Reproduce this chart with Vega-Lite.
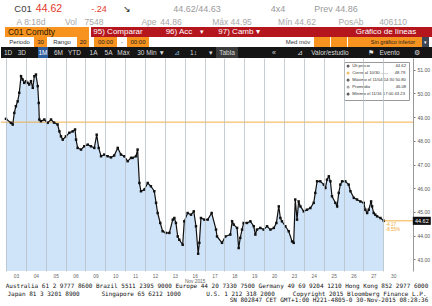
{
"$schema": "https://vega.github.io/schema/vega-lite/v6.json",
"padding": 0,
"background": "white",
"spacing": 0,
"bounds": "full",
"resolve": {"scale": {"color": "independent"}, "legend": {"color": "independent"}},
"config": {"view": {"stroke": null}, "text": {"font": "Liberation Sans", "fontSize": 7}, "concat": {"spacing": 0}, "axis": {"labelOverlap": false}},
"datasets": {
"precios": [
{"dia":0.00,"precio":48.93},{"dia":0.25,"precio":48.76},{"dia":0.34,"precio":48.69},{"dia":0.42,"precio":49.18},{"dia":0.50,"precio":49.46},{"dia":0.59,"precio":49.67},{"dia":0.67,"precio":50.03},{"dia":0.76,"precio":50.73},{"dia":0.84,"precio":50.59},{"dia":0.92,"precio":50.45},{"dia":1.01,"precio":50.52},{"dia":1.09,"precio":50.45},{"dia":1.17,"precio":50.38},{"dia":1.26,"precio":50.52},{"dia":1.35,"precio":50.24},{"dia":1.43,"precio":50.73},{"dia":1.51,"precio":50.80},{"dia":1.60,"precio":50.31},{"dia":1.65,"precio":49.60},{"dia":1.68,"precio":48.90},{"dia":1.76,"precio":48.83},{"dia":1.93,"precio":48.90},{"dia":2.10,"precio":48.76},{"dia":2.27,"precio":48.90},{"dia":2.42,"precio":48.77},{"dia":2.60,"precio":48.69},{"dia":2.69,"precio":48.40},{"dia":2.77,"precio":48.19},{"dia":2.86,"precio":48.05},{"dia":3.02,"precio":48.19},{"dia":3.19,"precio":48.34},{"dia":3.36,"precio":48.40},{"dia":3.48,"precio":48.48},{"dia":3.53,"precio":48.05},{"dia":3.61,"precio":47.70},{"dia":3.78,"precio":47.63},{"dia":3.94,"precio":47.77},{"dia":4.12,"precio":47.84},{"dia":4.28,"precio":47.77},{"dia":4.45,"precio":47.70},{"dia":4.57,"precio":48.26},{"dia":4.67,"precio":47.70},{"dia":4.79,"precio":47.35},{"dia":4.95,"precio":47.42},{"dia":5.12,"precio":47.35},{"dia":5.29,"precio":47.30},{"dia":5.45,"precio":47.38},{"dia":5.63,"precio":47.70},{"dia":5.79,"precio":47.42},{"dia":5.96,"precio":47.35},{"dia":6.13,"precio":47.14},{"dia":6.30,"precio":47.28},{"dia":6.38,"precio":47.28},{"dia":6.55,"precio":47.35},{"dia":6.63,"precio":47.63},{"dia":6.72,"precio":46.22},{"dia":6.80,"precio":45.87},{"dia":6.97,"precio":45.94},{"dia":7.14,"precio":46.22},{"dia":7.30,"precio":46.08},{"dia":7.47,"precio":45.87},{"dia":7.56,"precio":45.38},{"dia":7.64,"precio":44.95},{"dia":7.77,"precio":44.53},{"dia":7.89,"precio":44.18},{"dia":8.06,"precio":44.11},{"dia":8.23,"precio":44.11},{"dia":8.40,"precio":44.67},{"dia":8.48,"precio":44.74},{"dia":8.56,"precio":44.53},{"dia":8.65,"precio":43.96},{"dia":8.73,"precio":43.82},{"dia":8.90,"precio":43.61},{"dia":8.98,"precio":44.60},{"dia":9.15,"precio":44.95},{"dia":9.32,"precio":44.88},{"dia":9.46,"precio":45.02},{"dia":9.57,"precio":44.39},{"dia":9.68,"precio":43.23},{"dia":9.74,"precio":43.69},{"dia":9.82,"precio":44.74},{"dia":9.99,"precio":44.67},{"dia":10.16,"precio":44.67},{"dia":10.36,"precio":44.95},{"dia":10.58,"precio":44.25},{"dia":10.63,"precio":43.96},{"dia":10.88,"precio":43.69},{"dia":11.05,"precio":43.96},{"dia":11.30,"precio":44.04},{"dia":11.39,"precio":44.60},{"dia":11.47,"precio":44.46},{"dia":11.64,"precio":44.32},{"dia":11.72,"precio":43.47},{"dia":11.80,"precio":43.90},{"dia":11.89,"precio":44.25},{"dia":11.97,"precio":44.53},{"dia":12.14,"precio":44.53},{"dia":12.31,"precio":44.60},{"dia":12.48,"precio":44.39},{"dia":12.56,"precio":44.04},{"dia":12.64,"precio":44.25},{"dia":12.81,"precio":44.32},{"dia":12.98,"precio":44.25},{"dia":13.15,"precio":44.39},{"dia":13.32,"precio":44.25},{"dia":13.49,"precio":44.32},{"dia":13.62,"precio":44.53},{"dia":13.74,"precio":45.23},{"dia":13.82,"precio":44.74},{"dia":13.90,"precio":44.60},{"dia":14.07,"precio":44.39},{"dia":14.24,"precio":44.18},{"dia":14.41,"precio":43.75},{"dia":14.49,"precio":43.69},{"dia":14.57,"precio":45.52},{"dia":14.66,"precio":44.67},{"dia":14.74,"precio":45.44},{"dia":14.83,"precio":45.23},{"dia":15.00,"precio":45.02},{"dia":15.16,"precio":45.09},{"dia":15.33,"precio":45.16},{"dia":15.50,"precio":45.38},{"dia":15.58,"precio":45.80},{"dia":15.67,"precio":46.29},{"dia":15.83,"precio":46.29},{"dia":16.01,"precio":46.15},{"dia":16.09,"precio":46.01},{"dia":16.17,"precio":46.36},{"dia":16.26,"precio":46.50},{"dia":16.34,"precio":46.29},{"dia":16.42,"precio":45.66},{"dia":16.59,"precio":45.38},{"dia":16.68,"precio":45.23},{"dia":16.76,"precio":45.80},{"dia":16.84,"precio":46.15},{"dia":16.93,"precio":46.29},{"dia":17.09,"precio":46.29},{"dia":17.26,"precio":46.15},{"dia":17.35,"precio":45.87},{"dia":17.52,"precio":45.59},{"dia":17.68,"precio":45.52},{"dia":17.85,"precio":45.44},{"dia":18.02,"precio":45.38},{"dia":18.10,"precio":45.09},{"dia":18.19,"precio":44.95},{"dia":18.27,"precio":45.09},{"dia":18.39,"precio":45.44},{"dia":18.44,"precio":45.23},{"dia":18.52,"precio":44.95},{"dia":18.60,"precio":44.88},{"dia":18.69,"precio":44.81},{"dia":18.86,"precio":44.74},{"dia":19.03,"precio":44.62}
],
"estadisticas": [
{"clave":"ultimo","etiqueta":"Últ precio\u00a0\u00a0\u00a0\u00a0\u00a0\u00a0\u00a0\u00a0\u00a0\u00a0\u00a0\u00a0\u00a0\u00a0\u00a0\u00a0\u00a0\u00a0\u00a0\u00a0\u00a0\u00a044.62","precio":44.62},
{"clave":"cierre","etiqueta":"Cierre al 10/30 ----- \u00a0\u00a0\u00a0\u00a0\u00a048.79","precio":48.79},
{"clave":"maximo","etiqueta":"Máximo el 11/04 14:30 50.80","precio":50.80},
{"clave":"promedio","etiqueta":"Promedio\u00a0\u00a0\u00a0\u00a0\u00a0\u00a0\u00a0\u00a0\u00a0\u00a0\u00a0\u00a0\u00a0\u00a0\u00a0\u00a0\u00a0\u00a0\u00a0\u00a0\u00a0\u00a046.08","precio":46.08},
{"clave":"minimo","etiqueta":"Mínimo el 11/16 17:00 43.23","precio":43.23}
],
"actual": [{"dia":19.03,"precio":44.62,"texto":"44.62","cambio":["-4.17","-8.55%"]}]
},
"vconcat": [
{"hconcat": [
{"width":44,"height":17,"data":{"values":[{"t":"C01"}]},"mark":{"type":"text","color":"#3c3c3c","fontSize":9.5},"encoding":{"text":{"field":"t","type":"nominal"}}},
{"width":8,"height":17,"data":{"values":[{"t":"44.62"}]},"mark":{"type":"text","color":"#e2382b","fontSize":10.5},"encoding":{"text":{"field":"t","type":"nominal"}}},
{"width":36,"height":17,"data":{"values":[]},"mark":"point"},
{"width":20,"height":17,"data":{"values":[{"t":"-.24"}]},"mark":{"type":"text","color":"#e2382b","fontSize":9},"encoding":{"text":{"field":"t","type":"nominal"}}},
{"width":10,"height":17,"data":{"values":[]},"mark":"point"},
{"width":16,"height":17,"data":{"values":[{"t":"↘"}]},"mark":{"type":"text","color":"#111","fontSize":9},"encoding":{"text":{"field":"t","type":"nominal"}}},
{"width":34,"height":17,"data":{"values":[]},"mark":"point"},
{"width":56,"height":17,"data":{"values":[{"t":"44.62/44.63"}]},"mark":{"type":"text","color":"#9a9a9a","fontSize":9},"encoding":{"text":{"field":"t","type":"nominal"}}},
{"width":43,"height":17,"data":{"values":[]},"mark":"point"},
{"width":20,"height":17,"data":{"values":[{"t":"4x4"}]},"mark":{"type":"text","color":"#9a9a9a","fontSize":9},"encoding":{"text":{"field":"t","type":"nominal"}}},
{"width":24,"height":17,"data":{"values":[]},"mark":"point"},
{"width":48,"height":17,"data":{"values":[{"t":"Prev 44.86"}]},"mark":{"type":"text","color":"#9a9a9a","fontSize":9},"encoding":{"text":{"field":"t","type":"nominal"}}},
{"width":73,"height":17,"data":{"values":[]},"mark":"point"}
], "spacing": 0, "bounds": "flush"},
{"hconcat": [
{"width":13,"height":10,"data":{"values":[]},"mark":"point"},
{"width":34,"height":10,"data":{"values":[{"t":"A 8:18d"}]},"mark":{"type":"text","color":"#a8a8a8","fontSize":8.5},"encoding":{"text":{"field":"t","type":"nominal"}}},
{"width":15,"height":10,"data":{"values":[]},"mark":"point"},
{"width":16,"height":10,"data":{"values":[{"t":"Vol"}]},"mark":{"type":"text","color":"#a8a8a8","fontSize":8.5},"encoding":{"text":{"field":"t","type":"nominal"}}},
{"width":7,"height":10,"data":{"values":[]},"mark":"point"},
{"width":16,"height":10,"data":{"values":[{"t":"7548"}]},"mark":{"type":"text","color":"#a8a8a8","fontSize":8.5},"encoding":{"text":{"field":"t","type":"nominal"}}},
{"width":40,"height":10,"data":{"values":[]},"mark":"point"},
{"width":14,"height":10,"data":{"values":[{"t":"Ape"}]},"mark":{"type":"text","color":"#a8a8a8","fontSize":8.5},"encoding":{"text":{"field":"t","type":"nominal"}}},
{"width":4,"height":10,"data":{"values":[]},"mark":"point"},
{"width":22,"height":10,"data":{"values":[{"t":"44.86"}]},"mark":{"type":"text","color":"#a8a8a8","fontSize":8.5},"encoding":{"text":{"field":"t","type":"nominal"}}},
{"width":27,"height":10,"data":{"values":[]},"mark":"point"},
{"width":46,"height":10,"data":{"values":[{"t":"Máx 44.95"}]},"mark":{"type":"text","color":"#a8a8a8","fontSize":8.5},"encoding":{"text":{"field":"t","type":"nominal"}}},
{"width":22,"height":10,"data":{"values":[]},"mark":"point"},
{"width":40,"height":10,"data":{"values":[{"t":"Mín 44.62"}]},"mark":{"type":"text","color":"#a8a8a8","fontSize":8.5},"encoding":{"text":{"field":"t","type":"nominal"}}},
{"width":23,"height":10,"data":{"values":[]},"mark":"point"},
{"width":22,"height":10,"data":{"values":[{"t":"PosAb"}]},"mark":{"type":"text","color":"#a8a8a8","fontSize":8.5},"encoding":{"text":{"field":"t","type":"nominal"}}},
{"width":17,"height":10,"data":{"values":[]},"mark":"point"},
{"width":28,"height":10,"data":{"values":[{"t":"406110"}]},"mark":{"type":"text","color":"#a8a8a8","fontSize":8.5},"encoding":{"text":{"field":"t","type":"nominal"}}},
{"width":26,"height":10,"data":{"values":[]},"mark":"point"}
], "spacing": 0, "bounds": "flush"},
{"hconcat": [
{"width":4,"height":10,"data":{"values":[]},"mark":"point"},
{"width":53,"height":10,"view":{"fill":"#f7931e"},"data":{"values":[{"t":"C01 Comdty"}]},"mark":{"type":"text","color":"#2a1a00","fontSize":8.5},"encoding":{"text":{"field":"t","type":"nominal"}}},
{"width":31,"height":10,"view":{"fill":"#f7931e"},"data":{"values":[]},"mark":"point"},
{"width":2,"height":10,"data":{"values":[]},"mark":"point"},
{"width":54,"height":10,"view":{"fill":"#b5161e"},"data":{"values":[{"t":"95) Comparar"}]},"mark":{"type":"text","color":"white","fontSize":8},"encoding":{"text":{"field":"t","type":"nominal"}}},
{"width":19,"height":10,"view":{"fill":"#b5161e"},"data":{"values":[]},"mark":"point"},
{"width":30,"height":10,"view":{"fill":"#b5161e"},"data":{"values":[{"t":"96) Acc"}]},"mark":{"type":"text","color":"white","fontSize":8},"encoding":{"text":{"field":"t","type":"nominal"}}},
{"width":16,"height":10,"view":{"fill":"#b5161e"},"data":{"values":[{"t":"▾"}]},"mark":{"type":"text","color":"white","fontSize":7},"encoding":{"text":{"field":"t","type":"nominal"}}},
{"width":7,"height":10,"view":{"fill":"#b5161e"},"data":{"values":[]},"mark":"point"},
{"width":44,"height":10,"view":{"fill":"#b5161e"},"data":{"values":[{"t":"97) Camb ▾"}]},"mark":{"type":"text","color":"white","fontSize":8},"encoding":{"text":{"field":"t","type":"nominal"}}},
{"width":93,"height":10,"view":{"fill":"#b5161e"},"data":{"values":[]},"mark":"point"},
{"width":64,"height":10,"view":{"fill":"#b5161e"},"data":{"values":[{"t":"Gráfico de líneas"}]},"mark":{"type":"text","color":"white","fontSize":8},"encoding":{"text":{"field":"t","type":"nominal"}}},
{"width":15,"height":10,"view":{"fill":"#b5161e"},"data":{"values":[]},"mark":"point"}
], "spacing": 0, "bounds": "flush"},
{"hconcat": [
{"width":4,"height":10,"data":{"values":[]},"mark":"point"},
{"width":29,"height":10,"data":{"values":[{"t":"Periodo"}]},"mark":{"type":"text","color":"#333","fontSize":6},"encoding":{"text":{"field":"t","type":"nominal"}}},
{"width":13,"height":10,"view":{"fill":"#f7931e"},"data":{"values":[{"t":"30"}]},"mark":{"type":"text","color":"#222","fontSize":6},"encoding":{"text":{"field":"t","type":"nominal"}}},
{"width":30,"height":10,"data":{"values":[{"t":"Rango"}]},"mark":{"type":"text","color":"#333","fontSize":6},"encoding":{"text":{"field":"t","type":"nominal"}}},
{"width":12,"height":10,"view":{"fill":"#f7931e"},"data":{"values":[{"t":"20"}]},"mark":{"type":"text","color":"#222","fontSize":6},"encoding":{"text":{"field":"t","type":"nominal"}}},
{"width":5,"height":10,"data":{"values":[]},"mark":"point"},
{"width":23,"height":10,"view":{"fill":"#f7931e"},"data":{"values":[{"t":"00:00"}]},"mark":{"type":"text","color":"#222","fontSize":6},"encoding":{"text":{"field":"t","type":"nominal"}}},
{"width":10,"height":10,"data":{"values":[{"t":"-"}]},"mark":{"type":"text","color":"#333","fontSize":6},"encoding":{"text":{"field":"t","type":"nominal"}}},
{"width":22,"height":10,"view":{"fill":"#f7931e"},"data":{"values":[{"t":"00:00"}]},"mark":{"type":"text","color":"#222","fontSize":6},"encoding":{"text":{"field":"t","type":"nominal"}}},
{"width":133,"height":10,"data":{"values":[]},"mark":"point"},
{"width":32,"height":10,"data":{"values":[{"t":"Med móv"}]},"mark":{"type":"text","color":"#333","fontSize":6},"encoding":{"text":{"field":"t","type":"nominal"}}},
{"width":16,"height":10,"view":{"fill":"#f7931e"},"data":{"values":[]},"mark":"point"},
{"width":1,"height":10,"data":{"values":[]},"mark":"point"},
{"width":16,"height":10,"view":{"fill":"#f7931e"},"data":{"values":[]},"mark":"point"},
{"width":1,"height":10,"data":{"values":[]},"mark":"point"},
{"width":16,"height":10,"view":{"fill":"#f7931e"},"data":{"values":[]},"mark":"point"},
{"width":58,"height":10,"view":{"fill":"#f7931e"},"data":{"values":[{"t":"Sin gráfico inferior"}]},"mark":{"type":"text","color":"#222","fontSize":5.5},"encoding":{"text":{"field":"t","type":"nominal"}}},
{"width":7,"height":10,"view":{"fill":"#3b4656"},"data":{"values":[{"t":"▾"}]},"mark":{"type":"text","color":"white","fontSize":5},"encoding":{"text":{"field":"t","type":"nominal"}}},
{"width":4,"height":10,"data":{"values":[]},"mark":"point"}
], "spacing": 0, "bounds": "flush"},
{"hconcat": [
{"width":3,"height":11,"view":{"fill":"#151515"},"data":{"values":[]},"mark":"point"},
{"width":22,"height":11,"view":{"fill":"#151515"},"data":{"values":[{"t":"1D\u00a0\u00a0\u00a03D"}]},"mark":{"type":"text","color":"#d9d9d9","fontSize":6.5},"encoding":{"text":{"field":"t","type":"nominal"}}},
{"width":12,"height":11,"view":{"fill":"#151515"},"data":{"values":[]},"mark":"point"},
{"width":10,"height":11,"view":{"fill":"#2d5c9a"},"data":{"values":[{"t":"1M"}]},"mark":{"type":"text","color":"white","fontSize":6.5},"encoding":{"text":{"field":"t","type":"nominal"}}},
{"width":5,"height":11,"view":{"fill":"#151515"},"data":{"values":[]},"mark":"point"},
{"width":11,"height":11,"view":{"fill":"#151515"},"data":{"values":[{"t":"6M"}]},"mark":{"type":"text","color":"#d9d9d9","fontSize":6.5},"encoding":{"text":{"field":"t","type":"nominal"}}},
{"width":3,"height":11,"view":{"fill":"#151515"},"data":{"values":[]},"mark":"point"},
{"width":15,"height":11,"view":{"fill":"#151515"},"data":{"values":[{"t":"YTD"}]},"mark":{"type":"text","color":"#d9d9d9","fontSize":6.5},"encoding":{"text":{"field":"t","type":"nominal"}}},
{"width":6,"height":11,"view":{"fill":"#151515"},"data":{"values":[]},"mark":"point"},
{"width":11,"height":11,"view":{"fill":"#151515"},"data":{"values":[{"t":"1A"}]},"mark":{"type":"text","color":"#d9d9d9","fontSize":6.5},"encoding":{"text":{"field":"t","type":"nominal"}}},
{"width":4,"height":11,"view":{"fill":"#151515"},"data":{"values":[]},"mark":"point"},
{"width":11,"height":11,"view":{"fill":"#151515"},"data":{"values":[{"t":"5A"}]},"mark":{"type":"text","color":"#d9d9d9","fontSize":6.5},"encoding":{"text":{"field":"t","type":"nominal"}}},
{"width":3,"height":11,"view":{"fill":"#151515"},"data":{"values":[]},"mark":"point"},
{"width":13,"height":11,"view":{"fill":"#151515"},"data":{"values":[{"t":"Máx"}]},"mark":{"type":"text","color":"#d9d9d9","fontSize":6.5},"encoding":{"text":{"field":"t","type":"nominal"}}},
{"width":4,"height":11,"view":{"fill":"#151515"},"data":{"values":[]},"mark":"point"},
{"width":34,"height":11,"view":{"fill":"#151515"},"data":{"values":[{"t":"30 Min ▼"}]},"mark":{"type":"text","color":"#d9d9d9","fontSize":6.5},"encoding":{"text":{"field":"t","type":"nominal"}}},
{"width":2,"height":11,"view":{"fill":"#151515"},"data":{"values":[]},"mark":"point"},
{"width":14,"height":11,"view":{"fill":"#151515"},"data":{"values":[{"t":"⊿"}]},"mark":{"type":"text","color":"#7fb0e0","fontSize":7},"encoding":{"text":{"field":"t","type":"nominal"}}},
{"width":3,"height":11,"view":{"fill":"#151515"},"data":{"values":[]},"mark":"point"},
{"width":13,"height":11,"view":{"fill":"#151515"},"data":{"values":[{"t":"1↕"}]},"mark":{"type":"text","color":"#d9d9d9","fontSize":6.5},"encoding":{"text":{"field":"t","type":"nominal"}}},
{"width":6,"height":11,"view":{"fill":"#151515"},"data":{"values":[]},"mark":"point"},
{"width":10,"height":11,"view":{"fill":"#151515"},"data":{"values":[{"t":"▾"}]},"mark":{"type":"text","color":"#d9d9d9","fontSize":6.5},"encoding":{"text":{"field":"t","type":"nominal"}}},
{"width":22,"height":11,"view":{"fill":"#3a3a3a"},"data":{"values":[{"t":"Tabla"}]},"mark":{"type":"text","color":"#d9d9d9","fontSize":6.5},"encoding":{"text":{"field":"t","type":"nominal"}}},
{"width":26,"height":11,"view":{"fill":"#151515"},"data":{"values":[]},"mark":"point"},
{"width":20,"height":11,"view":{"fill":"#151515"},"data":{"values":[{"t":"«"}]},"mark":{"type":"text","color":"#d9d9d9","fontSize":7},"encoding":{"text":{"field":"t","type":"nominal"}}},
{"width":8,"height":11,"view":{"fill":"#151515"},"data":{"values":[]},"mark":"point"},
{"width":15,"height":11,"view":{"fill":"#151515"},"data":{"values":[{"t":"⊿"}]},"mark":{"type":"text","color":"#d9d9d9","fontSize":7},"encoding":{"text":{"field":"t","type":"nominal"}}},
{"width":46,"height":11,"view":{"fill":"#151515"},"data":{"values":[{"t":"Valor/estudio"}]},"mark":{"type":"text","color":"#d9d9d9","fontSize":6.5},"encoding":{"text":{"field":"t","type":"nominal"}}},
{"width":11,"height":11,"view":{"fill":"#151515"},"data":{"values":[]},"mark":"point"},
{"width":13,"height":11,"view":{"fill":"#151515"},"data":{"values":[{"t":"⚑"}]},"mark":{"type":"text","color":"#e8e8e8","fontSize":7},"encoding":{"text":{"field":"t","type":"nominal"}}},
{"width":25,"height":11,"view":{"fill":"#151515"},"data":{"values":[{"t":"Evento"}]},"mark":{"type":"text","color":"#d9d9d9","fontSize":6.5},"encoding":{"text":{"field":"t","type":"nominal"}}},
{"width":9,"height":11,"view":{"fill":"#151515"},"data":{"values":[]},"mark":"point"},
{"width":11,"height":11,"view":{"fill":"#151515"},"data":{"values":[{"t":"⚙"}]},"mark":{"type":"text","color":"#d9d9d9","fontSize":7},"encoding":{"text":{"field":"t","type":"nominal"}}},
{"width":11,"height":11,"view":{"fill":"#151515"},"data":{"values":[]},"mark":"point"}
], "spacing": 0, "bounds": "flush"},
{
"width": 412,
"height": 213,
"encoding": {
  "x":{"field":"dia","type":"quantitative","scale":{"domain":[-0.25,20.5],"nice":false,"zero":false},
   "axis":{"values":[0,1,2,3,4,5,6,7,8,9,10,11,12,13,14,15,16,17,18,19],"tickCount":20,"grid":true,"gridColor":"#b8c0c8","gridWidth":0.8,"ticks":false,"domain":false,"labelOffset":10,"labelFontSize":4.8,"labelColor":"#666","labelPadding":2,"labelOverlap":false,"labelFlush":false,"labelBound":false,"labelLineHeight":5,"title":null,"zindex":1,
   "labelExpr":"datum.value == 9 ? ['16','Nov 2015'] : ['03','04','05','06','09','10','11','12','13','16','17','18','19','20','23','24','25','26','27','30'][datum.value]"}},
  "y":{"field":"precio","type":"quantitative","scale":{"domain":[42.5,51.5],"nice":false,"zero":false},
   "axis":{"orient":"right","values":[43,44,45,46,47,48,49,50,51],"tickCount":9,"format":".2f","grid":false,"tickSize":2,"tickColor":"#777","domainColor":"#999","labelFontSize":5,"labelColor":"#555","labelPadding":2,"labelOverlap":false,"title":null}}
},
"layer": [
{"data":{"name":"precios"},"mark":{"type":"area","color":"#cfe3f9","opacity":1,"clip":true},
 "encoding":{"y2":{"value":"height"}}},
{"data":{"name":"estadisticas"},"transform":[{"filter":"datum.clave == 'cierre'"}],
 "mark":{"type":"rule","strokeWidth":0.9},
 "encoding":{
  "x":{"value":0},"x2":{"value":"width"},
  "color":{"field":"etiqueta","type":"nominal",
   "scale":{"domain":["Últ precio\u00a0\u00a0\u00a0\u00a0\u00a0\u00a0\u00a0\u00a0\u00a0\u00a0\u00a0\u00a0\u00a0\u00a0\u00a0\u00a0\u00a0\u00a0\u00a0\u00a0\u00a0\u00a044.62","Cierre al 10/30 ----- \u00a0\u00a0\u00a0\u00a0\u00a048.79","Máximo el 11/04 14:30 50.80","Promedio\u00a0\u00a0\u00a0\u00a0\u00a0\u00a0\u00a0\u00a0\u00a0\u00a0\u00a0\u00a0\u00a0\u00a0\u00a0\u00a0\u00a0\u00a0\u00a0\u00a0\u00a0\u00a046.08","Mínimo el 11/16 17:00 43.23"],
    "range":["#222222","#f0a830","#222222","#888888","#222222"]},
   "legend":{"title":null,"orient":"top-right","offset":4,"fillColor":"white","strokeColor":"#999","padding":2,"labelFontSize":4.2,"labelColor":"#333","symbolType":"circle","symbolSize":4,"symbolStrokeWidth":1,"rowPadding":0,"labelLimit":200,"labelOffset":2}}
 }},
{"data":{"name":"precios"},"mark":{"type":"line","color":"#111","strokeWidth":1.2}},
{"data":{"name":"precios"},"mark":{"type":"point","shape":"square","filled":true,"color":"#111","size":6,"opacity":1}},
{"data":{"name":"actual"},"mark":{"type":"rule","color":"#f0a830","strokeWidth":0.9},
 "encoding":{"x2":{"value":"width"}}},
{"data":{"name":"actual"},"mark":{"type":"point","shape":"M0,-0.45H2V0.45H0Z","filled":true,"color":"#111","size":324,"opacity":1,"clip":false,"xOffset":29}},
{"data":{"name":"actual"},"mark":{"type":"text","color":"white","fontSize":5.5,"dx":38,"align":"center"},
 "encoding":{"text":{"field":"texto","type":"nominal"}}},
{"data":{"name":"actual"},"mark":{"type":"text","color":"#f0a830","fontSize":4.5,"align":"left","baseline":"top","dx":2,"dy":1.5,"lineHeight":5},
 "encoding":{"text":{"field":"cambio","type":"nominal"}}}
]
},
{"vconcat": [
 {"width":432,"height":13,
  "data":{"values":[{"lineas":[
  "Australia 61 2 9777 8600 Brazil 5511 2395 9000 Europe 44 20 7330 7500 Germany 49 69 9204 1210 Hong Kong 852 2977 6000",
  "Japan 81 3 3201 8900\u00a0\u00a0\u00a0\u00a0\u00a0\u00a0Singapore 65 6212 1000\u00a0\u00a0\u00a0\u00a0\u00a0\u00a0\u00a0U.S. 1 212 318 2000\u00a0\u00a0\u00a0\u00a0\u00a0Copyright 2015 Bloomberg Finance L.P."
  ]}]},
  "mark":{"type":"text","font":"DejaVu Sans Mono","fontSize":6,"color":"#111","lineHeight":7.5,"dy":-4.5},
  "encoding":{"text":{"field":"lineas","type":"nominal"}}},
 {"hconcat": [
  {"width":226,"height":9,"data":{"values":[]},"mark":"point"},
  {"width":204,"height":9,"data":{"values":[{"t":"SN 802847 CET GMT+1:00 H221-4805-0 30-Nov-2015 08:28:36"}]},
   "mark":{"type":"text","font":"DejaVu Sans Mono","fontSize":6,"color":"#111","dy":-4.5},
   "encoding":{"text":{"field":"t","type":"nominal"}}},
  {"width":2,"height":9,"data":{"values":[]},"mark":"point"}
 ], "spacing": 0, "bounds": "flush"}
], "spacing": 0, "bounds": "full"}
]
}
